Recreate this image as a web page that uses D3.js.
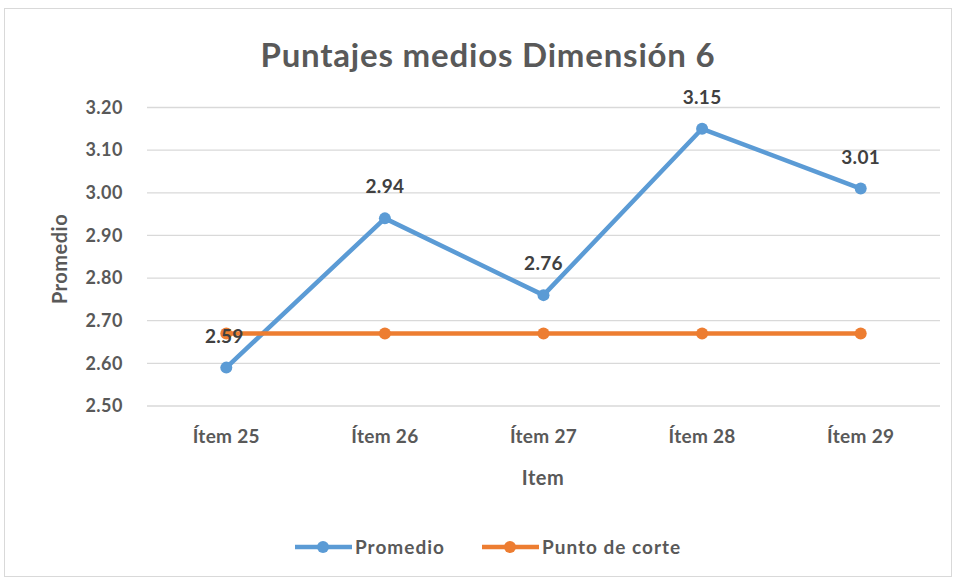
<!DOCTYPE html>
<html>
<head>
<meta charset="utf-8">
<script src="https://cdn.jsdelivr.net/npm/d3@7"></script>
<style>
  body { margin: 0; background: #fff; }
  svg text { font-family: Lato, "Open Sans", sans-serif; fill: #595959; font-weight: bold; }
</style>
</head>
<body>
<svg width="955" height="579"></svg>
<script>
// data
const items = ["Ítem 25", "Ítem 26", "Ítem 27", "Ítem 28", "Ítem 29"];
const promedio = [2.59, 2.94, 2.76, 3.15, 3.01];
const puntoCorte = [2.67, 2.67, 2.67, 2.67, 2.67];
const yTicks = [2.5, 2.6, 2.7, 2.8, 2.9, 3.0, 3.1, 3.2];

const blue = "#5b9bd5", orange = "#ed7d31";

let svg = d3.select("svg");

// chart frame
svg.append("rect")
    .attr("x", 4.5).attr("y", 8.5)
    .attr("width", 947).attr("height", 568)
    .attr("fill", "#fff")
    .attr("stroke", "#d9d9d9");

let x = d3.scaleBand()
    .domain(items)
    .range([147, 940]);

let y = d3.scaleLinear()
    .domain([2.5, 3.2])
    .range([406, 107.5]);

let cx = d => x(d) + x.bandwidth() / 2;

// gridlines
svg.append("g")
    .selectAll("line")
    .data(yTicks)
    .enter()
    .append("line")
    .attr("x1", 147).attr("x2", 940)
    .attr("y1", d => y(d)).attr("y2", d => y(d))
    .attr("stroke", "#d9d9d9")
    .attr("stroke-width", 1.3);

// y tick labels
svg.append("g")
    .selectAll("text")
    .data(yTicks)
    .enter()
    .append("text")
    .attr("x", 123)
    .attr("y", d => y(d))
    .attr("dy", "0.35em")
    .attr("text-anchor", "end")
    .style("font-size", "18px")
    .style("letter-spacing", "0.5px")
    .text(d => d3.format(".2f")(d));

// x tick labels
svg.append("g")
    .selectAll("text")
    .data(items)
    .enter()
    .append("text")
    .attr("x", d => cx(d))
    .attr("y", 443)
    .attr("text-anchor", "middle")
    .style("font-size", "19px")
    .style("letter-spacing", "0.3px")
    .text(d => d);

// titles
svg.append("text")
    .attr("x", 488).attr("y", 67)
    .attr("text-anchor", "middle")
    .style("font-size", "33px")
    .style("letter-spacing", "0.8px")
    .text("Puntajes medios Dimensión 6");

svg.append("text")
    .attr("x", 543).attr("y", 485)
    .attr("text-anchor", "middle")
    .style("font-size", "20px")
    .style("letter-spacing", "0.5px")
    .text("Item");

svg.append("text")
    .attr("transform", "translate(67,259) rotate(-90)")
    .attr("text-anchor", "middle")
    .style("font-size", "20px")
    .style("letter-spacing", "0.5px")
    .text("Promedio");

let line = d3.line()
    .x((d, i) => cx(items[i]))
    .y(d => y(d));

function drawSeries(values, color) {
    svg.append("path")
        .datum(values)
        .attr("d", line)
        .attr("fill", "none")
        .attr("stroke", color)
        .attr("stroke-width", 4.5)
        .attr("stroke-linejoin", "round");
    svg.append("g")
        .selectAll("circle")
        .data(values)
        .enter()
        .append("circle")
        .attr("cx", (d, i) => cx(items[i]))
        .attr("cy", d => y(d))
        .attr("r", 6)
        .attr("fill", color);
}

drawSeries(promedio, blue);
drawSeries(puntoCorte, orange);

// data labels
svg.append("g")
    .selectAll("text")
    .data(promedio)
    .enter()
    .append("text")
    .attr("x", (d, i) => cx(items[i]) - (i == 0 ? 2 : 0))
    .attr("y", d => y(d) - 25)
    .attr("text-anchor", "middle")
    .style("font-size", "19px")
    .style("letter-spacing", "0.3px")
    .style("fill", "#404040")
    .text(d => d3.format(".2f")(d));

// legend
let legend = [
    { name: "Promedio", color: blue, x: 295 },
    { name: "Punto de corte", color: orange, x: 482 }
];
let lg = svg.append("g")
    .selectAll("g")
    .data(legend)
    .enter()
    .append("g")
    .attr("transform", d => "translate(" + d.x + ",547)");
lg.append("line")
    .attr("x1", 0).attr("x2", 57)
    .attr("stroke", d => d.color)
    .attr("stroke-width", 4.5);
lg.append("circle")
    .attr("cx", 28).attr("r", 6)
    .attr("fill", d => d.color);
lg.append("text")
    .attr("x", 60)
    .attr("dy", "0.35em")
    .style("font-size", "19px")
    .style("letter-spacing", "1px")
    .text(d => d.name);
</script>
</body>
</html>
